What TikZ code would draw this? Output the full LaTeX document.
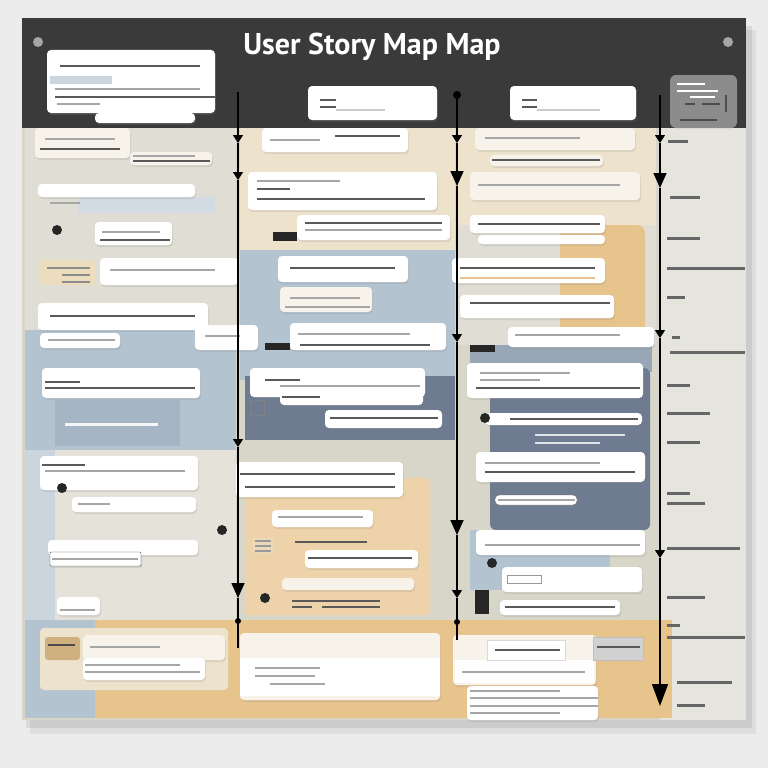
\documentclass[tikz,border=0pt]{standalone}
\usepackage{fontspec}
\newfontfamily\titlefont{PT Sans}
\usepackage{tikz}
\usetikzlibrary{arrows.meta,fit,shadows}
\definecolor{wall}{HTML}{ECECEC}
\definecolor{header}{HTML}{3A3A3A}
\definecolor{board}{HTML}{D8D6C9}
\definecolor{strip}{HTML}{E5E4DD}
\definecolor{sky}{HTML}{B4C3D0}
\definecolor{slate}{HTML}{6E7B90}
\definecolor{sand}{HTML}{E8C48D}
\definecolor{cream}{HTML}{EDE3CC}
\definecolor{paper}{HTML}{F7F3EA}
\newcommand{\storycard}[6][white]{\node[card, fill=#1, fit={(#3,#4) (#5,#6)}](#2){};}
\newcommand{\cardline}[3]{\draw[txtline] (#1,#3) -- (#2,#3);}
\newcommand{\darkline}[3]{\draw[txtdark] (#1,#3) -- (#2,#3);}
\newcommand{\sidelabel}[3]{\draw[sidetxt] (#1,#3) -- (#2,#3);}
\newcommand{\pinblob}[3]{\node[blob](#1) at (#2,#3) {};}
\tikzset{
  card/.style={rounded corners=4pt, inner sep=0pt,
    drop shadow={opacity=0.18, shadow xshift=1pt, shadow yshift=-2pt}},
  txtline/.style={draw=black!35, line width=1.6pt},
  txtdark/.style={draw=black!65, line width=1.4pt},
  sidetxt/.style={draw=black!60, line width=3pt},
  blob/.style={circle, fill=black!85, minimum size=10pt, inner sep=0pt},
  flow/.style={line width=1.6pt, -{Triangle[length=8pt,width=10pt]}},
  bigflow/.style={line width=1.6pt, -{Triangle[length=15pt,width=13pt]}},
  plain/.style={line width=1.6pt}
}
\begin{document}
\begin{tikzpicture}[x=1pt,y=-1pt]
\useasboundingbox (0,0) rectangle (768,768);
\fill[wall] (0,0) rectangle (768,768);
% board and its shadow
\fill[black, opacity=0.08] (26,26) rectangle (752,728);
\fill[black, opacity=0.06] (30,30) rectangle (756,734);
\fill[board] (22,18) rectangle (746,720);
\fill[header] (22,18) rectangle (746,128);
\fill[strip] (660,128) rectangle (746,720);
% column 1 panels
\fill[board!80!white] (25,128) rectangle (236,330);
\fill[sky] (25,330) rectangle (236,450);
\fill[sky!80!slate] (55,400) rectangle (180,446);
\fill[board!70!white] (25,450) rectangle (236,620);
\fill[sky!70!white] (25,450) rectangle (55,620);
% column 2 panels
\fill[cream] (240,128) rectangle (455,250);
\fill[sky] (240,250) rectangle (455,380);
\fill[slate] (245,376) rectangle (455,440);
\fill[board] (240,440) rectangle (455,480);
\fill[sand!75!white, rounded corners=4pt] (245,478) rectangle (430,615);
% column 3 panels
\fill[cream] (458,128) rectangle (656,225);
\fill[board!80!white] (458,225) rectangle (656,345);
\fill[sand, rounded corners=8pt] (560,225) rectangle (645,340);
\fill[sky!60!slate] (470,345) rectangle (652,372);
\fill[slate, rounded corners=6pt] (490,368) rectangle (650,530);
\fill[sky] (470,530) rectangle (610,590);
% bottom row
\fill[sand] (25,620) rectangle (672,718);
\fill[sky] (25,620) rectangle (95,718);
\fill[cream, rounded corners=4pt] (40,628) rectangle (228,690);
% title
\node[text=white, font=\titlefont\bfseries\fontsize{30}{32}\selectfont](title) at (372,47) {User Story Map Map};
\node[blob, fill=black!35](pinl) at (38,42) {};
\node[blob, fill=black!35](pinr) at (728,42) {};
% header cards
\storycard{c01}{47}{50}{215}{113}
\darkline{60}{200}{66}
\fill[sky!70!white] (50,76) rectangle (112,84);
\cardline{55}{200}{89}
\darkline{55}{215}{97}
\cardline{57}{100}{104}
\storycard{c01b}{95}{113}{195}{123}
\storycard{c02}{308}{86}{437}{120}
\draw[txtdark, line width=2pt] (320,100) -- (336,100);
\draw[txtdark, line width=2pt] (320,107) -- (336,107);
\draw[black!20, line width=1.5pt] (336,110) -- (385,110);
\storycard{c03}{510}{86}{636}{120}
\draw[txtdark, line width=2pt] (522,100) -- (537,100);
\draw[txtdark, line width=2pt] (522,107) -- (537,107);
\draw[black!20, line width=1.5pt] (537,110) -- (600,110);
\node[fill=black!45, rounded corners=6pt, fit={(670,75) (737,128)}, inner sep=0pt](tab){};
\draw[white, line width=2pt] (677,84) -- (705,84) (677,91) -- (718,91) (690,97) -- (715,97);
\draw[black!70, line width=1.5pt] (685,104) -- (695,104) (702,104) -- (720,104) (680,120) -- (717,120) (726,95) -- (726,112);
% row 2
\storycard[paper]{c04}{35}{128}{130}{158}
\cardline{45}{115}{139}
\darkline{40}{120}{149}
\storycard[paper]{c05}{130}{152}{212}{165}
\cardline{133}{195}{156}
\darkline{133}{210}{161}
\storycard{c06}{262}{128}{408}{152}
\cardline{270}{320}{140}
\darkline{335}{400}{136}
\storycard[paper]{c07}{475}{128}{635}{150}
\cardline{485}{580}{138}
\storycard[paper]{c08}{490}{155}{603}{166}
\darkline{492}{600}{160}
% row 3
\fill[sky!60!white] (78,197) rectangle (215,213);
\storycard{c09}{38}{184}{195}{197}
\cardline{50}{80}{203}
\storycard{c10}{248}{172}{437}{210}
\cardline{257}{340}{181}
\darkline{257}{290}{189}
\darkline{257}{425}{199}
\storycard[paper]{c11}{470}{172}{640}{200}
\cardline{478}{620}{185}
% row 4
\pinblob{pin1}{57}{230}
\storycard{c12}{95}{222}{172}{245}
\cardline{102}{160}{232}
\darkline{100}{170}{240}
\storycard{c13}{297}{215}{450}{240}
\darkline{305}{442}{223}
\cardline{305}{442}{230}
\fill[black!85] (273,232) rectangle (297,241);
\storycard{c14}{470}{215}{605}{233}
\darkline{478}{600}{224}
\storycard{c15}{478}{235}{605}{244}
% row 5
\node[fill=cream!80!sand, rounded corners=3pt, fit={(40,260) (95,285)}, inner sep=0pt](tag1){};
\draw[black!45, line width=1.2pt] (47,268) -- (90,268) (62,275) -- (90,275) (62,282) -- (90,282);
\storycard{c16}{100}{258}{238}{285}
\cardline{110}{215}{270}
\storycard{c17}{278}{256}{408}{282}
\darkline{290}{395}{268}
\storycard[paper]{c18}{280}{287}{372}{312}
\cardline{290}{360}{298}
\cardline{285}{370}{307}
\storycard{c19}{452}{258}{605}{283}
\darkline{460}{595}{268}
\draw[sand, line width=1.4pt] (460,278) -- (595,278);
\storycard{c20}{460}{295}{614}{318}
\darkline{470}{610}{303}
% row 6
\storycard{c21}{38}{303}{208}{330}
\darkline{50}{195}{316}
\storycard{c22}{40}{333}{120}{348}
\cardline{48}{115}{340}
\storycard{c23}{195}{325}{258}{350}
\cardline{205}{240}{336}
\storycard{c24}{290}{323}{446}{350}
\cardline{298}{410}{334}
\darkline{300}{430}{345}
\fill[black!85] (265,343) rectangle (290,350);
\fill[black!85] (470,345) rectangle (495,352);
\storycard{c25}{508}{327}{654}{347}
\cardline{515}{620}{335}
% row 7
\storycard{c26}{42}{368}{200}{398}
\darkline{45}{80}{382}
\darkline{45}{195}{388}
\storycard{c27}{250}{368}{425}{397}
\darkline{265}{300}{380}
\cardline{280}{420}{386}
\storycard{c28}{280}{393}{423}{405}
\darkline{282}{320}{397}
\storycard{c29}{467}{363}{643}{398}
\cardline{480}{570}{373}
\cardline{480}{540}{380}
\darkline{476}{640}{388}
\draw[black!50, line width=1pt] (250,400) rectangle (264,415);
% row 8
\draw[white!85!sky, line width=3pt] (65,424) -- (158,424);
\storycard{c30}{325}{410}{442}{428}
\darkline{330}{438}{418}
\storycard{c31}{485}{413}{642}{425}
\darkline{510}{638}{419}
\draw[white!80!slate, line width=2.5pt] (535,435) -- (625,435) (535,443) -- (600,443);
\pinblob{pin2}{485}{418}
% row 9
\storycard{c32}{40}{456}{198}{490}
\darkline{42}{85}{465}
\cardline{45}{185}{471}
\pinblob{pin3}{62}{488}
\storycard{c33}{72}{497}{196}{512}
\cardline{78}{110}{504}
\storycard{c34}{236}{462}{403}{497}
\darkline{240}{395}{474}
\darkline{245}{395}{487}
\storycard{c35}{272}{510}{373}{527}
\cardline{278}{363}{517}
\storycard{c36}{476}{452}{645}{482}
\cardline{485}{600}{463}
\darkline{485}{635}{472}
\node[card, fill=white, draw=black!60, fit={(495,495) (577,505)}](c37){};
\cardline{498}{575}{500}
\pinblob{pin4}{222}{530}
% row 10
\storycard{c38}{48}{540}{198}{555}
\node[card, fill=white, draw=black!70, rounded corners=1pt, fit={(50,552) (141,566)}](c39){};
\cardline{52}{138}{559}
\node[fill=cream!70!sand, fit={(253,538) (273,553)}, inner sep=0pt](tag2){};
\draw[black!40, line width=1.2pt] (255,541) -- (271,541) (255,546) -- (271,546) (255,551) -- (271,551);
\darkline{295}{367}{542}
\storycard{c40}{305}{550}{418}{568}
\darkline{308}{412}{558}
\storycard[paper]{c41}{282}{578}{414}{590}
\storycard{c42}{476}{530}{645}{555}
\cardline{485}{640}{545}
\storycard{c43}{502}{567}{642}{592}
\draw[black!40, line width=1pt] (507,575) rectangle (541,583);
\pinblob{pin5}{492}{563}
% row 11
\storycard{c44}{57}{597}{100}{615}
\cardline{60}{95}{610}
\darkline{292}{380}{601}
\darkline{292}{312}{607}
\darkline{322}{380}{607}
\pinblob{pin6}{265}{598}
\storycard{c45}{500}{600}{620}{615}
\darkline{505}{615}{607}
\fill[black!85] (475,590) rectangle (489,614);
% bottom row cards
\node[fill=sand!90!black, rounded corners=3pt, fit={(45,637) (80,660)}, inner sep=0pt](tag3){};
\draw[black!70, line width=2pt] (48,645) -- (75,645);
\storycard[paper]{c46}{83}{635}{225}{660}
\cardline{90}{160}{647}
\storycard{c47}{83}{658}{205}{680}
\cardline{85}{180}{665}
\cardline{85}{200}{672}
\storycard[paper]{c48}{240}{633}{440}{700}
\fill[white] (240,658) rectangle (440,696);
\cardline{255}{320}{668}
\cardline{255}{315}{676}
\cardline{270}{325}{684}
\storycard[paper]{c49}{453}{635}{596}{685}
\fill[white] (455,660) rectangle (594,683);
\cardline{462}{585}{672}
\node[fill=white, draw=black!15, fit={(487,640) (565,660)}, inner sep=0pt](c49t){};
\darkline{495}{560}{650}
\node[fill=black!18, draw=black!25, fit={(593,637) (643,660)}, inner sep=0pt](c49s){};
\darkline{597}{640}{647}
\storycard{c50}{467}{686}{598}{720}
\cardline{470}{560}{691}
\cardline{470}{598}{698}
\cardline{470}{598}{706}
\cardline{470}{560}{713}
% timeline 1
\coordinate (a0) at (238,92);
\coordinate (a1) at (238,143);
\coordinate (a2) at (238,180);
\coordinate (a3) at (238,447);
\coordinate (a4) at (238,598);
\coordinate (a5) at (238,648);
\draw[flow] (a0) -- (a1);
\draw[flow] (a1) -- (a2);
\draw[flow] (a2) -- (a3);
\draw[bigflow] (a3) -- (a4);
\draw[plain] (a4) -- (a5);
\fill (238,621) circle (3pt);
% timeline 2
\coordinate (b0) at (457,95);
\coordinate (b1) at (457,143);
\coordinate (b2) at (457,186);
\coordinate (b3) at (457,342);
\coordinate (b4) at (457,535);
\coordinate (b5) at (457,598);
\coordinate (b6) at (457,640);
\fill (b0) circle (4pt);
\draw[flow] (b0) -- (b1);
\draw[bigflow] (b1) -- (b2);
\draw[flow] (b2) -- (b3);
\draw[bigflow] (b3) -- (b4);
\draw[flow] (b4) -- (b5);
\draw[plain] (b5) -- (b6);
\fill (457,622) circle (3pt);
% timeline 3
\coordinate (d0) at (660,95);
\coordinate (d1) at (660,143);
\coordinate (d2) at (660,188);
\coordinate (d3) at (660,338);
\coordinate (d4) at (660,558);
\coordinate (d5) at (660,706);
\draw[flow] (d0) -- (d1);
\draw[bigflow] (d1) -- (d2);
\draw[flow] (d2) -- (d3);
\draw[flow] (d3) -- (d4);
\draw[line width=1.6pt, -{Triangle[length=22pt,width=16pt]}] (d4) -- (d5);
% side labels
\sidelabel{668}{688}{141}
\sidelabel{670}{700}{197}
\sidelabel{667}{700}{238}
\sidelabel{667}{745}{268}
\sidelabel{667}{685}{297}
\sidelabel{672}{680}{337}
\sidelabel{670}{745}{352}
\sidelabel{667}{690}{385}
\sidelabel{667}{710}{413}
\sidelabel{667}{700}{442}
\sidelabel{667}{690}{493}
\sidelabel{667}{705}{503}
\sidelabel{667}{740}{548}
\sidelabel{667}{705}{597}
\sidelabel{667}{680}{625}
\sidelabel{667}{745}{637}
\sidelabel{677}{732}{682}
\sidelabel{677}{705}{705}
\end{tikzpicture}
\end{document}
